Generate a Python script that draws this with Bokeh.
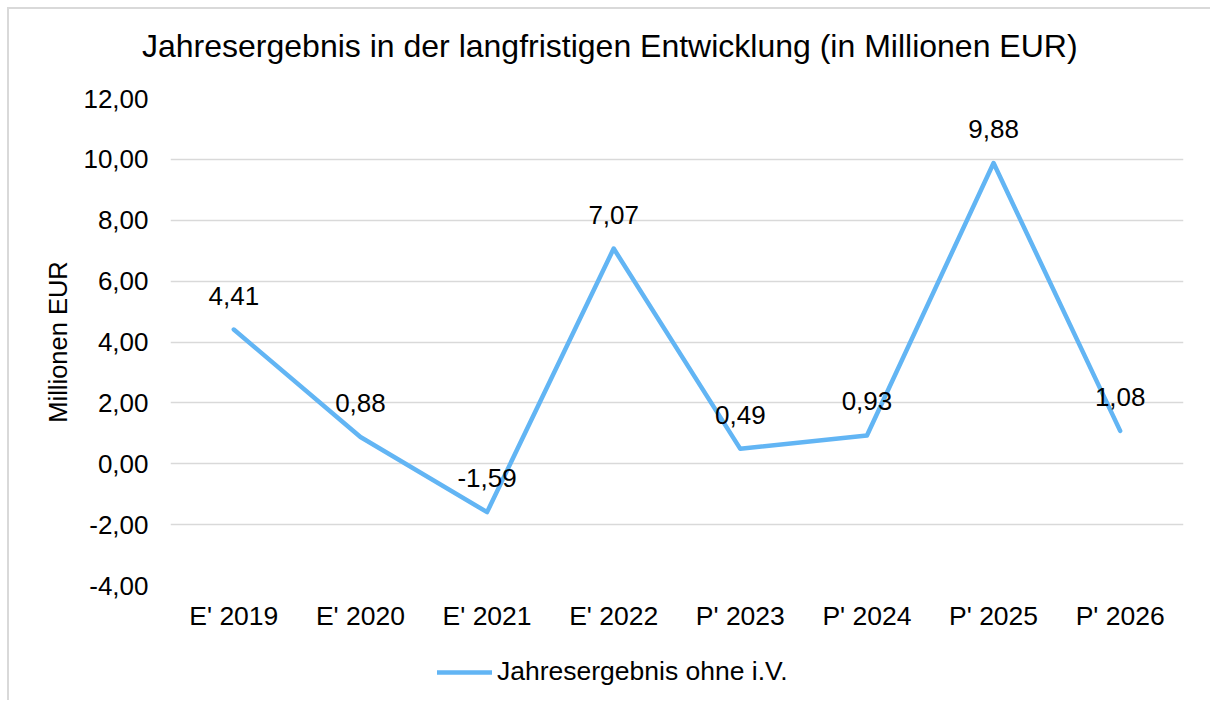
from bokeh.plotting import figure
from bokeh.layouts import column
from bokeh.models import (ColumnDataSource, LabelSet, FixedTicker, CustomJSTickFormatter,
                          Legend, LegendItem, Range1d, FactorRange, Div)
from bokeh.core.properties import value
from bokeh.embed import file_html
from bokeh.resources import INLINE

categories = ["E' 2019", "E' 2020", "E' 2021", "E' 2022", "P' 2023", "P' 2024", "P' 2025", "P' 2026"]
values = [4.41, 0.88, -1.59, 7.07, 0.49, 0.93, 9.88, 1.08]
y_ticks = [-4, -2, 0, 2, 4, 6, 8, 10, 12]
series_name = "Jahresergebnis ohne i.V."
title_text = "Jahresergebnis in der langfristigen Entwicklung (in Millionen EUR)"
y_label = "Millionen EUR"

labels = [f"{v:.2f}".replace(".", ",") for v in values]
source = ColumnDataSource(dict(x=categories, y=values, label=labels))

FONT = "Liberation Sans"
LINE_COLOR = "#62B5F4"
GRID = "#d9d9d9"

# title strip
title_div = Div(text=(f'<div style="padding-left:128px;padding-top:16px;margin:0;'
                      f'font-family:\'{FONT}\';font-size:32px;line-height:32px;'
                      f'color:#000000;white-space:nowrap">{title_text}</div>'),
                width=1200, height=50)

p = figure(width=1200, height=566, title=None,
           x_range=FactorRange(*categories), y_range=Range1d(y_ticks[0], y_ticks[-1]),
           output_backend="svg", toolbar_location=None,
           min_border_left=161, min_border_right=26, min_border_top=29, min_border_bottom=50)
p.outline_line_color = None
p.background_fill_color = "white"
p.border_fill_color = "white"

ticker = FixedTicker(ticks=y_ticks)
p.yaxis.ticker = ticker
p.yaxis.formatter = CustomJSTickFormatter(code="return tick.toFixed(2).replace('.', ',');")
p.yaxis.axis_line_color = None
p.yaxis.major_tick_line_color = None
p.yaxis.minor_tick_line_color = None
p.yaxis.major_label_standoff = 16
p.yaxis.major_label_text_font = FONT
p.yaxis.major_label_text_font_size = "26px"
p.yaxis.major_label_text_color = "#000000"
p.yaxis.axis_label = y_label
p.yaxis.axis_label_text_font = FONT
p.yaxis.axis_label_text_font_size = "25.5px"
p.yaxis.axis_label_text_font_style = "normal"
p.yaxis.axis_label_text_color = "#000000"
p.yaxis.axis_label_standoff = 8

p.xaxis.axis_line_color = None
p.xaxis.major_tick_line_color = None
p.xaxis.minor_tick_line_color = None
p.xaxis.major_label_standoff = 9
p.xaxis.major_label_text_font = FONT
p.xaxis.major_label_text_font_size = "26.5px"
p.xaxis.major_label_text_color = "#000000"

p.xgrid.grid_line_color = None
p.ygrid.ticker = ticker
p.ygrid.grid_line_color = GRID
p.ygrid.grid_line_width = 1.5

r = p.line("x", "y", source=source, line_color=LINE_COLOR, line_width=4.5,
           line_join="round", line_cap="round")

p.add_layout(LabelSet(x="x", y="y", text="label", source=source, text_align="center",
                      text_baseline="alphabetic", y_offset=25, text_font=value(FONT),
                      text_font_size=value("26px"), text_color="#000000"))

# legend strip below the chart
leg = figure(width=1200, height=65, title=None, x_range=p.x_range, y_range=Range1d(100, 200),
             output_backend="svg", toolbar_location=None, min_border=0,
             x_axis_location=None, y_axis_location=None)
leg.outline_line_color = None
leg.grid.visible = False
lr = leg.line("x", "y", source=source, line_color=LINE_COLOR, line_width=4.5, line_cap="round")
legend = Legend(items=[LegendItem(label=series_name, renderers=[lr])],
                location=(267, 13), orientation="horizontal",
                border_line_color=None, background_fill_alpha=0,
                padding=0, margin=0, spacing=0, glyph_width=55, glyph_height=20,
                label_standoff=5, label_text_font=FONT,
                label_text_font_size="26.5px", label_text_color="#000000")
leg.add_layout(legend, "center")

lay = column(title_div, p, leg, spacing=0)
lay.styles = {"margin-left": "7px", "margin-top": "7px",
              "border-top": "2px solid #d9d9d9", "border-left": "2px solid #d9d9d9"}

open("out.html", "w").write(file_html(lay, INLINE))
